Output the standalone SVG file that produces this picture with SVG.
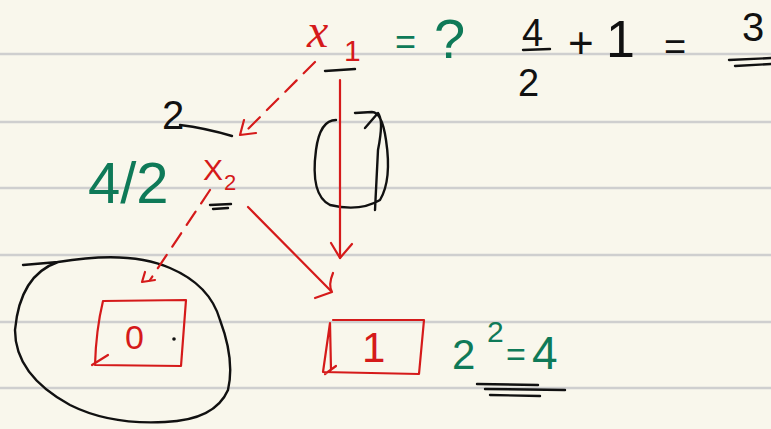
<svg xmlns="http://www.w3.org/2000/svg" width="771" height="429" viewBox="0 0 771 429">
<style>
.rule{stroke:#cfcfcf;stroke-width:2.5}
.r{stroke:#d51a1a;fill:none;stroke-width:2.2;stroke-linecap:round;stroke-linejoin:round}
.k{stroke:#111;fill:none;stroke-width:2.4;stroke-linecap:round;stroke-linejoin:round}
.dash{stroke-dasharray:16 10}
.tr{fill:#d51a1a;font-family:"Liberation Sans",sans-serif}
.tk{fill:#111;font-family:"Liberation Sans",sans-serif}
.tg{fill:#0f7a58;font-family:"Liberation Sans",sans-serif}
.serif{font-family:"Liberation Serif",serif}
</style>
<rect width="771" height="429" fill="#f9f7ec"/>
<g id="rules">
<line class="rule" x1="0" y1="54" x2="771" y2="54"/>
<line class="rule" x1="0" y1="122" x2="771" y2="122"/>
<line class="rule" x1="0" y1="188" x2="771" y2="188"/>
<line class="rule" x1="0" y1="255" x2="771" y2="255"/>
<line class="rule" x1="0" y1="322" x2="771" y2="322"/>
<line class="rule" x1="0" y1="388" x2="771" y2="388"/>
</g>
<g id="x1">
<text class="tr serif" x="307" y="47" font-size="48" font-style="italic">x</text>
<text class="tr" x="344" y="61" font-size="30">1</text>
<path class="k" d="M325,71 L355,69"/>
</g>
<g id="equation-top">
<text class="tg" x="395" y="54" font-size="36">=</text>
<text class="tg" x="434" y="58" font-size="56">?</text>
<text class="tk" x="522" y="46" font-size="38">4</text>
<path class="k" d="M523,50 L550,49"/>
<text class="tk" x="518" y="96" font-size="38">2</text>
<text class="tk" x="568" y="58" font-size="44">+</text>
<text class="tk" x="606" y="57" font-size="52">1</text>
<text class="tk" x="664" y="60" font-size="38">=</text>
<text class="tk" x="742" y="41" font-size="40">3</text>
<path class="k" d="M729,60 L771,58 M735,66 L771,64"/>
</g>
<g id="edge-label-2">
<text class="tk" x="162" y="129" font-size="40">2</text>
<path class="k" d="M180,125 Q205,128 232,136"/>
</g>
<g id="half">
<text class="tg" x="88" y="203" font-size="58">4/2</text>
</g>
<g id="x2">
<text class="tr" x="203" y="180" font-size="30">X</text>
<text class="tr" x="224" y="190" font-size="22">2</text>
<path class="k" d="M210,205 L231,204 M213,209 L228,208"/>
</g>
<g id="loop">
<path class="k" d="M336,120 Q320,120 316,150 Q310,195 330,205 Q360,212 380,200 Q392,180 386,140 Q382,112 372,112 L355,113 M365,128 L378,113 Q384,120 378,150 L375,210"/>
</g>
<g id="node-0">
<path class="k" d="M23,265 L58,262 M58,262 Q20,275 15,330 Q15,375 70,405 Q110,425 165,422 Q215,420 228,390 Q235,360 220,320 Q210,285 170,268 Q130,250 58,262"/>
<path class="r" d="M103,301 L186,300 L181,366 L95,365 Q96,330 103,301 M108,355 L92,365"/>
<text class="tr" x="125" y="349" font-size="34">0</text>
<circle cx="174" cy="339" r="1.8" fill="#111"/>
</g>
<g id="node-1">
<path class="r" d="M333,320 L424,320 L419,374 L323,372 L330,323 L331,370 M336,366 L325,374"/>
<text class="tr" x="362" y="362" font-size="42">1</text>
</g>
<g id="result">
<text class="tg" x="452" y="369" font-size="42">2</text>
<text class="tg" x="487" y="342" font-size="30">2</text>
<text class="tg" x="506" y="366" font-size="34">=</text>
<text class="tg" x="532" y="369" font-size="46">4</text>
<path class="k" stroke-width="3" d="M477,384 L538,385 M485,389 L565,390 M490,395 L540,396"/>
</g>
<g id="connectors">
<path class="r dash" d="M315,62 L245,132"/>
<path class="r" d="M244,120 L240,135 L256,133"/>
<path class="r dash" d="M210,190 L150,280"/>
<path class="r" d="M145,272 L142,282 L155,280"/>
<path class="r" d="M248,207 L331,291"/>
<path class="r" d="M333,273 Q328,285 332,292 L315,298"/>
<path class="r" d="M340,80 L340,258"/>
<path class="r" d="M331,243 L340,258 L352,244"/>
</g>
</svg>
